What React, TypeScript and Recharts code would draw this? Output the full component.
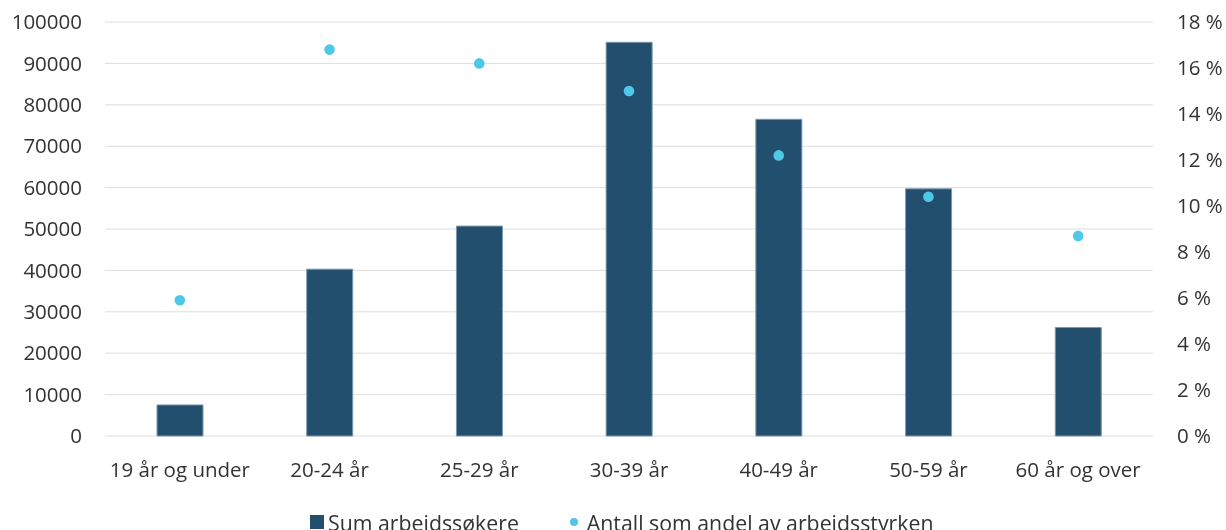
import React from 'react';
import { ComposedChart, Bar, Line, XAxis, YAxis, CartesianGrid } from 'recharts';

// age groups on the x axis
const categories = ['19 år og under', '20-24 år', '25-29 år', '30-39 år', '40-49 år', '50-59 år', '60 år og over'];
// Sum arbeidssøkere (left axis)
const jobSeekers = [7500, 40300, 50700, 95100, 76500, 59700, 26200];
// Antall som andel av arbeidsstyrken, in % (right axis)
const shareOfWorkforce = [5.9, 16.8, 16.2, 15.0, 12.2, 10.4, 8.7];

const leftTicks = [0, 10000, 20000, 30000, 40000, 50000, 60000, 70000, 80000, 90000, 100000];
const rightTicks = [0, 2, 4, 6, 8, 10, 12, 14, 16, 18];

const BAR_COLOR = '#224f6e';
const DOT_COLOR = '#4ec8e8';
const TEXT_COLOR = '#333333';

const data = categories.map((name, i) => ({
  name,
  seekers: jobSeekers[i],
  share: shareOfWorkforce[i],
}));

const tickStyle = { fill: TEXT_COLOR, fontSize: 20.5, fontFamily: '"Open Sans", sans-serif' };

export default function App() {
  // fixed so the legend that runs off the bottom edge doesn't add a scrollbar
  return (
    <div style={{ position: 'fixed', left: 0, top: 0, width: 1226, height: 530, overflow: 'hidden' }}>
      <div style={{ position: 'absolute', left: 8, top: 8, width: 1218, height: 522, fontFamily: '"Open Sans", sans-serif' }}>
        <ComposedChart
          width={1218}
          height={522}
          data={data}
          margin={{ top: 14, right: 0, bottom: 34, left: 0 }}
        >
          <CartesianGrid yAxisId="left" vertical={false} stroke="#dedede" strokeWidth={1} />
          <XAxis
            dataKey="name"
            interval={0}
            tickLine={false}
            axisLine={false}
            height={60}
            tickMargin={20}
            tick={tickStyle}
          />
          <YAxis
            yAxisId="left"
            domain={[0, 100000]}
            ticks={leftTicks}
            width={97}
            tickLine={false}
            axisLine={false}
            tickMargin={17}
            tick={tickStyle}
          />
          <YAxis
            yAxisId="right"
            orientation="right"
            domain={[0, 18]}
            ticks={rightTicks}
            width={73}
            tickLine={false}
            axisLine={false}
            tickMargin={18}
            tick={{ ...tickStyle, textAnchor: 'start' }}
            tickFormatter={(v: number) => `${v} %`}
          />
          <Bar
            yAxisId="left"
            dataKey="seekers"
            barSize={46}
            fill={BAR_COLOR}
            stroke="#7d97ad"
            strokeWidth={1}
            isAnimationActive={false}
          />
          <Line
            yAxisId="right"
            dataKey="share"
            stroke="none"
            strokeWidth={0}
            dot={{ r: 5.3, fill: DOT_COLOR, stroke: 'none' }}
            activeDot={false}
            isAnimationActive={false}
          />
        </ComposedChart>

        {/* legend sits left of centre and runs off the bottom, like the original */}
        <div
          style={{
            position: 'absolute',
            left: 302,
            top: 500,
            height: 28,
            display: 'flex',
            alignItems: 'center',
            whiteSpace: 'nowrap',
            fontSize: 21.3,
            color: TEXT_COLOR,
          }}
        >
          <span style={{ display: 'inline-block', width: 14, height: 14, background: BAR_COLOR, marginRight: 4 }} />
          <span>Sum arbeidssøkere</span>
          <span
            style={{
              display: 'inline-block',
              width: 8,
              height: 8,
              borderRadius: '50%',
              background: DOT_COLOR,
              marginLeft: 51,
              marginRight: 9,
            }}
          />
          <span>Antall som andel av arbeidsstyrken</span>
        </div>
      </div>
    </div>
  );
}
